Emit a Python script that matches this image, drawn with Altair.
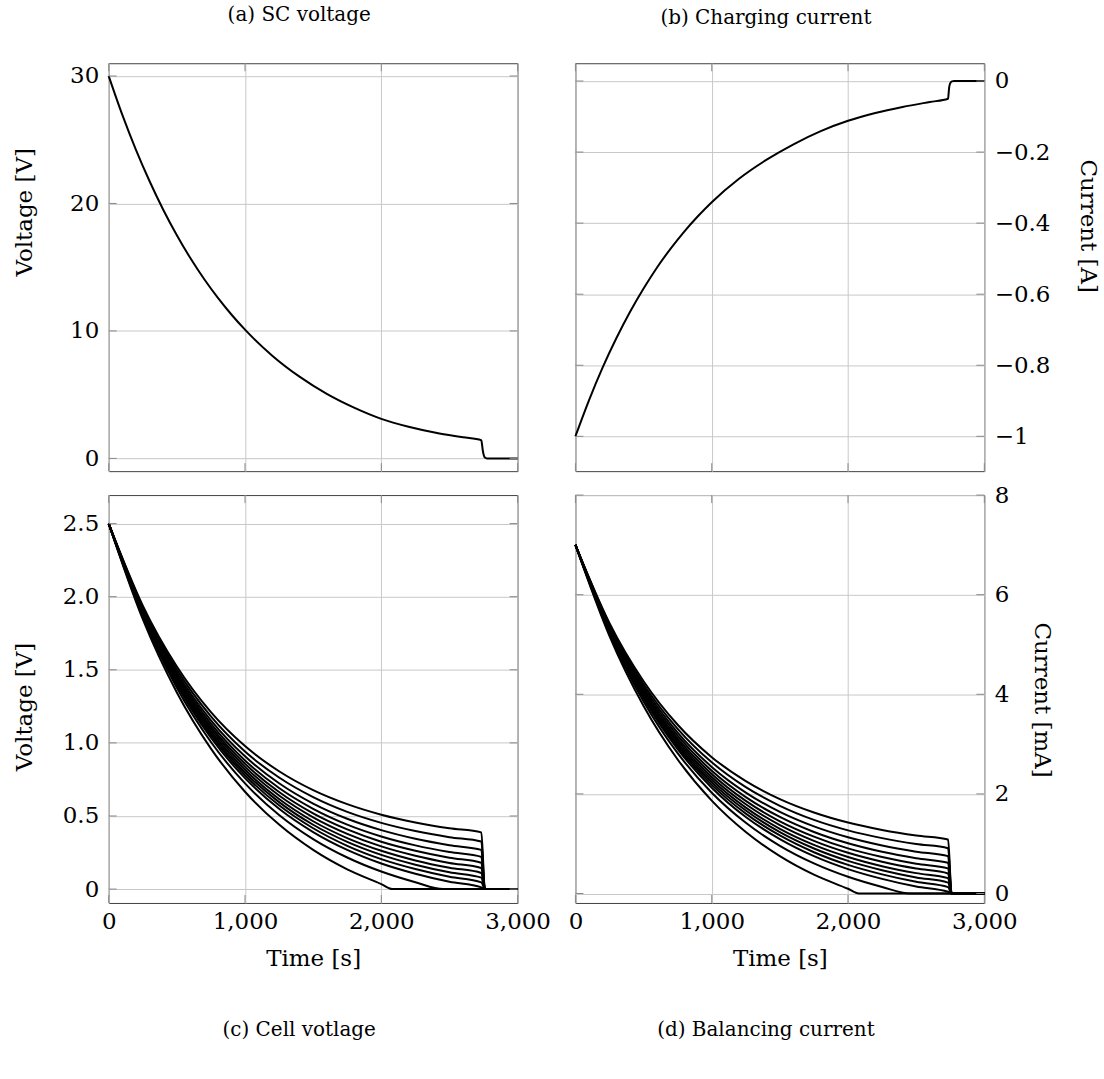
import altair as alt
import pandas as pd

FONT = "DejaVu Serif"

# ---- (a) SC voltage ----
SC_T = [0, 100, 200, 300, 400, 500, 600, 700, 800, 900, 1000, 1200, 1400, 1600, 1800,
        2000, 2200, 2400, 2600, 2734, 2739, 2745, 2752, 2762, 2775, 3000]
SC_V = [30.0, 26.95, 24.21, 21.74, 19.51, 17.51, 15.70, 14.07, 12.61, 11.29, 10.1, 8.06, 6.41, 5.06, 3.98,
        3.1, 2.48, 2.01, 1.66, 1.43, 1.1, 0.6, 0.25, 0.05, 0.0, 0.0]

# ---- (b) Charging current ----
IC_T = [0, 100, 200, 300, 400, 500, 600, 700, 800, 900, 1000, 1200, 1400, 1600, 1800,
        2000, 2200, 2400, 2600, 2734, 2738, 2742, 2750, 2762, 2778, 3000]
IC_A = [-1.0, -0.898, -0.806, -0.724, -0.650, -0.584, -0.524, -0.471, -0.423, -0.380, -0.341, -0.275,
        -0.222, -0.178, -0.141, -0.112, -0.090, -0.073, -0.059, -0.050, -0.035, -0.018, -0.006, -0.001,
        0.0, 0.0]

# ---- (c) Cell voltage, (d) Balancing current : 12 cells ----
CELL_T = [0, 250, 500, 750, 1000, 1250, 1500, 1750, 2000, 2080, 2250, 2455, 2500, 2734, 2760, 3000]
N = None
CELL_V = [
    [2.5, 1.939, 1.522, 1.210, 0.978, 0.806, 0.677, 0.581, 0.509, N, 0.456, N, 0.416, 0.388, 0, 0],
    [2.5, 1.928, 1.501, 1.181, 0.941, 0.763, 0.629, 0.528, 0.453, N, 0.397, N, 0.355, 0.325, 0, 0],
    [2.5, 1.918, 1.482, 1.154, 0.908, 0.724, 0.585, 0.481, 0.403, N, 0.344, N, 0.300, 0.268, 0, 0],
    [2.5, 1.910, 1.466, 1.132, 0.880, 0.691, 0.549, 0.441, 0.360, N, 0.299, N, 0.253, 0.220, 0, 0],
    [2.5, 1.903, 1.453, 1.113, 0.857, 0.664, 0.518, 0.408, 0.324, N, 0.262, N, 0.214, 0.180, 0, 0],
    [2.5, 1.897, 1.441, 1.097, 0.836, 0.640, 0.491, 0.378, 0.292, N, 0.228, N, 0.179, 0.144, 0, 0],
    [2.5, 1.891, 1.430, 1.081, 0.816, 0.616, 0.464, 0.349, 0.262, N, 0.196, N, 0.146, 0.110, 0, 0],
    [2.5, 1.885, 1.420, 1.066, 0.797, 0.595, 0.440, 0.323, 0.234, N, 0.167, N, 0.115, 0.078, 0, 0],
    [2.5, 1.880, 1.409, 1.051, 0.779, 0.573, 0.416, 0.296, 0.205, N, 0.137, N, 0.084, 0.046, 0, 0],
    [2.5, 1.874, 1.398, 1.035, 0.759, 0.549, 0.390, 0.268, 0.175, N, 0.105, N, 0.050, 0.012, 0, 0],
    [2.5, 1.863, 1.377, 1.006, 0.723, 0.507, 0.342, 0.216, 0.120, N, 0.047, 0, 0, 0, 0, 0],
    [2.5, 1.846, 1.345, 0.961, 0.666, 0.441, 0.268, 0.135, 0.034, 0, 0, N, 0, 0, 0, 0],
]
BAL_MA = [
    [7.0, 5.429, 4.262, 3.388, 2.738, 2.257, 1.896, 1.627, 1.425, N, 1.277, N, 1.165, 1.086, 0, 0],
    [7.0, 5.398, 4.203, 3.307, 2.635, 2.136, 1.761, 1.478, 1.268, N, 1.112, N, 0.994, 0.910, 0, 0],
    [7.0, 5.370, 4.150, 3.231, 2.542, 2.027, 1.638, 1.347, 1.128, N, 0.963, N, 0.840, 0.750, 0, 0],
    [7.0, 5.348, 4.105, 3.170, 2.464, 1.935, 1.537, 1.235, 1.008, N, 0.837, N, 0.708, 0.616, 0, 0],
    [7.0, 5.328, 4.068, 3.116, 2.400, 1.859, 1.450, 1.142, 0.907, N, 0.734, N, 0.599, 0.504, 0, 0],
    [7.0, 5.312, 4.035, 3.072, 2.341, 1.792, 1.375, 1.058, 0.818, N, 0.638, N, 0.501, 0.403, 0, 0],
    [7.0, 5.295, 4.004, 3.027, 2.285, 1.725, 1.299, 0.977, 0.734, N, 0.549, N, 0.409, 0.308, 0, 0],
    [7.0, 5.278, 3.976, 2.985, 2.232, 1.666, 1.232, 0.904, 0.655, N, 0.468, N, 0.322, 0.218, 0, 0],
    [7.0, 5.264, 3.945, 2.943, 2.181, 1.604, 1.165, 0.829, 0.574, N, 0.384, N, 0.235, 0.129, 0, 0],
    [7.0, 5.247, 3.914, 2.898, 2.125, 1.537, 1.092, 0.750, 0.490, N, 0.294, N, 0.140, 0.034, 0, 0],
    [7.0, 5.216, 3.856, 2.817, 2.024, 1.420, 0.958, 0.605, 0.336, N, 0.132, 0, 0, 0, 0, 0],
    [7.0, 5.169, 3.766, 2.691, 1.865, 1.235, 0.750, 0.378, 0.095, 0, 0, N, 0, 0, 0, 0],
]

X_TICKS = [0, 1000, 2000, 3000]
W, H = 410, 409
TICK_LEN = 8
TICK_COLOR = "#8a8a8a"


def single_df(ts, vs):
    return pd.DataFrame({"t": ts, "v": vs, "s": ["0"] * len(ts)})


def multi_df(ts, rows):
    recs = []
    for i, row in enumerate(rows):
        for t, v in zip(ts, row):
            if v is not None:
                recs.append({"t": t, "v": v, "s": f"{i:02d}"})
    return pd.DataFrame(recs)


def panel(df, ydom, yvals, ytitle, yorient, ytitle_x, ytitle_y, caption, cap_orient, cap_offset,
          bottom_labels, ylabel_expr=None):
    xscale = alt.Scale(domain=[0, 3000], nice=False, zero=False)
    yscale = alt.Scale(domain=ydom, nice=False, zero=False)
    if bottom_labels:
        xaxis = alt.Axis(values=X_TICKS, format=",d", title="Time [s]", labelFlush=False,
                         labelPadding=8, titlePadding=14, grid=True)
    else:
        xaxis = alt.Axis(values=X_TICKS, labels=False, title=None, grid=True)
    yargs = dict(values=yvals, title=ytitle, orient=yorient, grid=True, labelPadding=10,
                 titleX=ytitle_x, titleY=ytitle_y, titleBaseline="middle")
    if ylabel_expr:
        yargs["labelExpr"] = ylabel_expr
    yaxis = alt.Axis(**yargs)

    line = alt.Chart(df).mark_line(color="black", strokeWidth=2.0, interpolate="monotone").encode(
        x=alt.X("t:Q", scale=xscale, axis=xaxis),
        y=alt.Y("v:Q", scale=yscale, axis=yaxis),
        detail="s:N",
    )

    # inward tick marks on all four sides (pgfplots style)
    ydf = pd.DataFrame({"v": yvals})
    xdf = pd.DataFrame({"t": X_TICKS})
    rule = dict(color=TICK_COLOR, strokeWidth=1)
    yl = alt.Chart(ydf).mark_rule(**rule).encode(
        y=alt.Y("v:Q", scale=yscale, axis=yaxis), x=alt.value(0), x2=alt.value(TICK_LEN))
    yr = alt.Chart(ydf).mark_rule(**rule).encode(
        y=alt.Y("v:Q", scale=yscale, axis=yaxis), x=alt.value(W - TICK_LEN), x2=alt.value(W))
    xb = alt.Chart(xdf).mark_rule(**rule).encode(
        x=alt.X("t:Q", scale=xscale, axis=xaxis), y=alt.value(H - TICK_LEN), y2=alt.value(H))
    xt = alt.Chart(xdf).mark_rule(**rule).encode(
        x=alt.X("t:Q", scale=xscale, axis=xaxis), y=alt.value(0), y2=alt.value(TICK_LEN))

    return alt.layer(line, yl, yr, xb, xt).properties(
        width=W,
        height=H,
        title=alt.TitleParams(caption, orient=cap_orient, offset=cap_offset, frame="group",
                              dx=-14, font=FONT, fontSize=20, fontWeight="normal", color="black"),
    )


pa = panel(single_df(SC_T, SC_V), [-1, 31], [0, 10, 20, 30], "Voltage [V]", "left", -84, 149,
           "(a) SC voltage", "top", 38, False)
pb = panel(single_df(IC_T, IC_A), [-1.098, 0.05], [-1, -0.8, -0.6, -0.4, -0.2, 0], "Current [A]",
           "right", 103, 163, "(b) Charging current", "top", 35, False,
           ylabel_expr="format(datum.value, '~g')")
pc = panel(multi_df(CELL_T, CELL_V), [-0.095, 2.695], [0, 0.5, 1, 1.5, 2, 2.5], "Voltage [V]", "left",
           -84, 212, "(c) Cell votlage", "bottom", 49, True,
           ylabel_expr="datum.value == 0 ? '0' : format(datum.value, '.1f')")
pd_ = panel(multi_df(CELL_T, BAL_MA), [-0.19, 8.0], [0, 2, 4, 6, 8], "Current [mA]", "right", 57, 205,
            "(d) Balancing current", "bottom", 49, True)

chart = (
    alt.concat(pa, pb, pc, pd_, columns=2, spacing={"row": 24, "column": 58}, bounds="flush")
    .properties(padding={"left": 13, "top": 3, "right": 5, "bottom": 5})
    .configure(font=FONT)
    .configure_view(stroke="#404040", strokeWidth=1)
    .configure_axis(
        labelFont=FONT, titleFont=FONT, labelFontSize=23, titleFontSize=23,
        titleFontWeight="normal", labelColor="black", titleColor="black",
        gridColor="#c8c8c8", gridWidth=1, gridOpacity=1, domain=False, ticks=False,
    )
)

chart.save("out.html", embed_options={"renderer": "svg", "actions": False})
